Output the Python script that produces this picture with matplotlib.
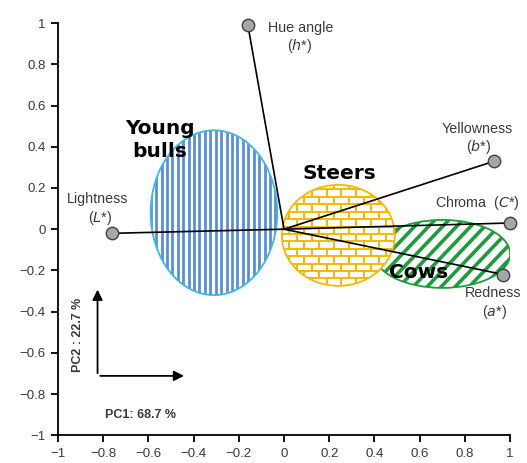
import numpy as np
import matplotlib.pyplot as plt
from matplotlib.patches import Ellipse

# loadings (PC1, PC2)
var_names = ["Lightness", "Hue angle", "Yellowness", "Chroma", "Redness"]
var_symbols = ["L", "h", "b", "C", "a"]
pc1 = [-0.76, -0.16, 0.93, 1.00, 0.97]
pc2 = [-0.02, 0.99, 0.33, 0.03, -0.22]

# groups: centre x, centre y, width, height
groups = ["Young\nbulls", "Steers", "Cows"]
grp_x = [-0.31, 0.24, 0.70]
grp_y = [0.08, -0.03, -0.12]
grp_w = [0.56, 0.50, 0.60]
grp_h = [0.80, 0.49, 0.33]

pc1_pct = 68.7
pc2_pct = 22.7

plt.rcParams['font.family'] = ['Liberation Sans', 'DejaVu Sans']
TXT = "#3a3a3a"

fig = plt.figure(figsize=(5.27, 4.63), dpi=100)
ax = fig.add_axes([0.110, 0.060, 0.858, 0.890])
ax.set_xlim(-1, 1)
ax.set_ylim(-1, 1)
for s in ("top", "right"):
    ax.spines[s].set_visible(False)
ax.spines["left"].set_linewidth(1.3)
ax.spines["bottom"].set_linewidth(1.3)
ticks = np.round(np.arange(-1, 1.01, 0.2), 1)
fmt = lambda v: "0" if abs(v) < 1e-9 else ("%g" % v).replace("-", "\u2212")
ax.set_xticks(ticks)
ax.set_yticks(ticks)
ax.set_xticklabels([fmt(v) for v in ticks])
ax.set_yticklabels([fmt(v) for v in ticks])
ax.tick_params(labelsize=9.5, width=1.3, length=5, pad=4, labelcolor=TXT)


def striped(cx, cy, w, h, edge, stripe, lw, kind, z):
    e = Ellipse((cx, cy), w, h, facecolor="white", edgecolor="none", zorder=z)
    ax.add_patch(e)
    x0, x1 = cx - w / 2, cx + w / 2
    y0, y1 = cy - h / 2, cy + h / 2
    segs = []
    if kind == "vert":
        for x in np.arange(x0, x1, 0.024):
            segs.append(([x, x], [y0, y1]))
    elif kind == "diag":
        for t in np.arange(x0 - h, x1 + h, 0.062):
            segs.append(([t, t + 0.5], [y0, y0 + 0.5 * 1.15]))
    elif kind == "brick":
        dy = 0.036
        bw = 0.066
        for i, y in enumerate(np.arange(y0, y1 + dy, dy)):
            segs.append(([x0, x1], [y, y]))
            off = 0 if i % 2 == 0 else bw / 2
            for x in np.arange(x0 + off, x1, bw):
                segs.append(([x, x], [y, y + dy]))
    for xs, ys in segs:
        ln, = ax.plot(xs, ys, color=stripe, lw=lw, zorder=z, solid_capstyle="butt")
        ln.set_clip_path(e)
    ax.add_patch(Ellipse((cx, cy), w, h, facecolor="none", edgecolor=edge,
                         lw=1.3, zorder=z + 0.1))


striped(grp_x[0], grp_y[0], grp_w[0], grp_h[0], "#3fb6e8", "#5b8fd0", 2.0, "vert", 1)
striped(grp_x[2], grp_y[2], grp_w[2], grp_h[2], "#1f9a3c", "#1f9a3c", 2.6, "diag", 2)
striped(grp_x[1], grp_y[1], grp_w[1], grp_h[1], "#f5b800", "#f5b800", 1.4, "brick", 3)

# loading vectors
for x, y in zip(pc1, pc2):
    ax.plot([0, x], [0, y], color="black", lw=1.2, zorder=5)
ax.scatter(pc1, pc2, s=80, color="#a6a6a6", edgecolors="#404040", linewidths=1.0,
           zorder=6, clip_on=False)

# label positions: name (x, y, ha), symbol (x, y, ha)
lab_pos = {
    "Lightness": ((-0.823, 0.146, "center"), (-0.815, 0.053, "center")),
    "Hue angle": ((-0.071, 0.976, "left"), (0.07, 0.888, "center")),
    "Yellowness": ((0.854, 0.485, "center"), (0.86, 0.398, "center")),
    "Redness": ((0.925, -0.311, "center"), (0.93, -0.403, "center")),
}
for name, sym in zip(var_names, var_symbols):
    if name == "Chroma":
        ax.text(0.668, 0.126, "Chroma  ($\\it{%s}$*)" % sym, fontsize=10.3,
                color=TXT, ha="left", va="center", zorder=7)
        continue
    (nx, ny, nha), (sx, sy, sha) = lab_pos[name]
    ax.text(nx, ny, name, fontsize=10.3, color=TXT, ha=nha, va="center", zorder=7)
    ax.text(sx, sy, "($\\it{%s}$*)" % sym, fontsize=10.3, color=TXT,
            ha=sha, va="center", zorder=7)

bold = dict(fontsize=14.5, fontweight="bold", family="DejaVu Sans", ha="center",
            va="center", zorder=7)
ax.text(-0.55, 0.432, groups[0], linespacing=1.25, **bold)
ax.text(0.245, 0.27, groups[1], **bold)
ax.text(0.595, -0.21, groups[2], **bold)

# inset axis arrows
arr = dict(arrowstyle="-|>", color="black", lw=1.3, mutation_scale=15)
ax.annotate("", xy=(-0.825, -0.28), xytext=(-0.825, -0.712), arrowprops=arr)
ax.annotate("", xy=(-0.43, -0.712), xytext=(-0.825, -0.712), arrowprops=arr)
ax.text(-0.91, -0.515, "PC2 : %.1f %%" % pc2_pct, rotation=90, fontsize=9,
        fontweight="bold", color=TXT, ha="center", va="center")
ax.text(-0.637, -0.903, "PC1: %.1f %%" % pc1_pct, fontsize=9, fontweight="bold",
        color=TXT, ha="center", va="center")

fig.savefig("out.png", dpi=100)
